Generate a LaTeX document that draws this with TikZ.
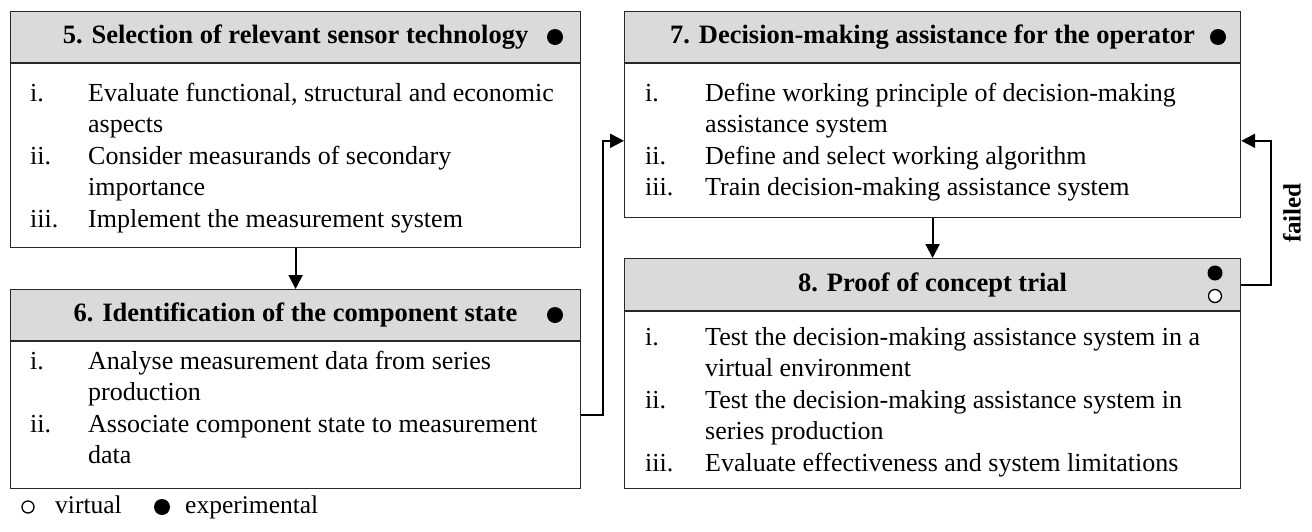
\documentclass[tikz,border=0pt]{standalone}
\usepackage{fontspec}
\setmainfont{Liberation Serif}
\usetikzlibrary{positioning,arrows.meta}

\definecolor{hdrgray}{RGB}{217,218,218}
\definecolor{edge}{RGB}{40,40,40}

\tikzset{
  hdr/.style={draw=edge, line width=1.2pt, fill=hdrgray, inner sep=0pt,
    font=\fontsize{26.5}{30}\selectfont\bfseries},
  bodybox/.style={draw=edge, line width=1.2pt, inner sep=0pt},
  items/.style={inner sep=0pt, anchor=base west,
    font=\fontsize{26}{31.5}\selectfont},
  dotfull/.style={circle, fill=black, inner sep=0pt, minimum size=16pt},
  dotopen/.style={circle, draw=black, line width=1.3pt, fill=white,
    inner sep=0pt, minimum size=13pt},
  flow/.style={line width=2pt, -{Triangle[length=14pt,width=14pt]}},
}

\begin{document}
\begin{tikzpicture}[x=1pt,y=-1pt]
\useasboundingbox (0,0) rectangle (1312,531);

% step 5
\node[hdr, anchor=north west, minimum width=570, minimum height=51] (h5) at (10,11)
  {5. Selection of relevant sensor technology\hspace{20pt}};
\node[bodybox, below=0pt of h5, minimum width=570, minimum height=184] (b5) {};
\node[dotfull] (d5) at (555,37) {};
\node[items] (t5) at (30,101) {\begin{tabular}[t]{@{}p{58pt}@{}l@{}}
  i.   & Evaluate functional, structural and economic\\
       & aspects\\
  ii.  & Consider measurands of secondary\\
       & importance\\
  iii. & Implement the measurement system
\end{tabular}};

% step 6
\node[hdr, anchor=north west, minimum width=570, minimum height=51] (h6) at (10,289)
  {6. Identification of the component state};
\node[bodybox, below=0pt of h6, minimum width=570, minimum height=147] (b6) {};
\node[dotfull] (d6) at (555,315) {};
\node[items] (t6) at (30,369) {\begin{tabular}[t]{@{}p{58pt}@{}l@{}}
  i.   & Analyse measurement data from series\\
       & production\\
  ii.  & Associate component state to measurement\\
       & data
\end{tabular}};

% step 7
\node[hdr, anchor=north west, minimum width=616, minimum height=51] (h7) at (624,11)
  {7. Decision-making assistance for the operator\hspace{14pt}};
\node[bodybox, below=0pt of h7, minimum width=616, minimum height=154] (b7) {};
\node[dotfull] (d7) at (1218,37) {};
\node[items] (t7) at (645,101) {\begin{tabular}[t]{@{}p{60pt}@{}l@{}}
  i.   & Define working principle of decision-making\\
       & assistance system\\
  ii.  & Define and select working algorithm\\
  iii. & Train decision-making assistance system
\end{tabular}};

% step 8
\node[hdr, anchor=north west, minimum width=616, minimum height=52] (h8) at (624,258)
  {8. Proof of concept trial};
\node[bodybox, below=0pt of h8, minimum width=616, minimum height=177] (b8) {};
\node[dotfull, minimum size=15pt] (d8a) at (1215,273) {};
\node[dotopen] (d8b) at (1215,296) {};
\node[items] (t8) at (645,345) {\begin{tabular}[t]{@{}p{60pt}@{}l@{}}
  i.   & Test the decision-making assistance system in a\\
       & virtual environment\\
  ii.  & Test the decision-making assistance system in\\
       & series production\\
  iii. & Evaluate effectiveness and system limitations
\end{tabular}};

% connectors
\draw[flow] (b5.south) -- (h6.north);
\draw[flow] (b7.south) -- (h8.north);
\draw[flow] (b6.east) -- ++(22,0) |- (b7.west);
\draw[flow] (h8.east) -- ++(30,0) |- (b7.east);
\node[rotate=90, font=\fontsize{25}{30}\selectfont\bfseries] (fail) at (1292,213) {failed};

% legend
\node[dotopen, minimum size=12pt] (lv) at (28,507) {};
\node[items, font=\fontsize{25.5}{30}\selectfont] (lvt) at (55,513) {virtual};
\node[dotfull] (le) at (162,507) {};
\node[items, font=\fontsize{25.5}{30}\selectfont] (let) at (185,513) {experimental};
\end{tikzpicture}
\end{document}
